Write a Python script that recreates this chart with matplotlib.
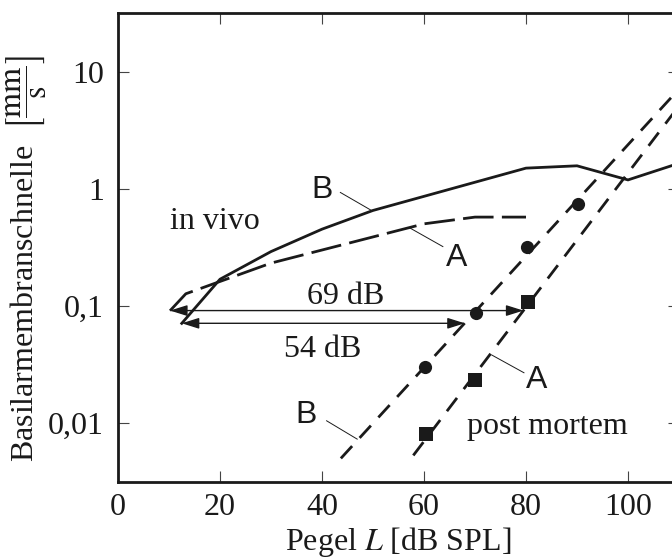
import matplotlib
matplotlib.use("Agg")
import matplotlib.pyplot as plt
from matplotlib.ticker import FixedLocator, FixedFormatter, NullLocator

# ---- data ----
# in vivo, curve B (solid)
vivo_B_x = [12.5, 20, 30, 40, 50, 80, 90, 100, 110]
vivo_B_y = [0.071, 0.169, 0.291, 0.452, 0.653, 1.50, 1.57, 1.19, 1.65]
# in vivo, curve A (long dashes)
vivo_A_x = [10.2, 13.3, 30, 60, 70, 80]
vivo_A_y = [0.091, 0.127, 0.232, 0.502, 0.573, 0.573]
# post mortem, line B and its points (circles)
pm_B_line_x = [43.7, 110]
pm_B_line_y = [0.0050, 7.1]
pm_B_pts_x = [60.2, 70.2, 80.1, 90.1]
pm_B_pts_y = [0.0299, 0.0877, 0.317, 0.744]
# post mortem, line A and its points (squares)
pm_A_line_x = [57.9, 110]
pm_A_line_y = [0.0053, 5.1]
pm_A_pts_x = [60.4, 70.0, 80.3]
pm_A_pts_y = [0.00805, 0.0233, 0.107]

x_ticks = [0, 20, 40, 60, 80, 100]
x_ticklabels = ["0", "20", "40", "60", "80", "100"]
y_ticks = [0.01, 0.1, 1, 10]
y_ticklabels = ["0,01", "0,1", "1", "10"]

# level differences (arrows)
arrow69 = (10.2, 79.5, 0.0913)
arrow54 = (12.5, 68.0, 0.0711)

# ---- style ----
plt.rcParams["font.family"] = ["Liberation Serif", "DejaVu Serif"]
plt.rcParams["mathtext.fontset"] = "stix"
INK = "#1a1a1a"
FS = 23

fig = plt.figure(figsize=(6.72, 5.58), dpi=100)
ax = fig.add_axes([118 / 672, 76.3 / 558, 561 / 672, 468.7 / 558])

ax.set_yscale("log")
ax.set_xlim(0, 110)
ax.set_ylim(10 ** -2.5, 10 ** 1.5)

lw = 2.0
ax.plot(vivo_B_x, vivo_B_y, color=INK, lw=lw, solid_joinstyle="miter")
ax.plot(vivo_A_x, vivo_A_y, color=INK, lw=lw, dashes=(11, 3))
ax.plot(pm_B_line_x, pm_B_line_y, color=INK, lw=lw, dashes=(6, 4))
ax.plot(pm_A_line_x, pm_A_line_y, color=INK, lw=lw, dashes=(6, 4))
ax.plot(pm_B_pts_x, pm_B_pts_y, "o", color=INK, ms=9.5, mew=0)
ax.plot(pm_A_pts_x, pm_A_pts_y, "s", color=INK, ms=9.5, mew=0)

# arrows
for x0, x1, yv in (arrow69, arrow54):
    ax.annotate("", xy=(x0, yv), xytext=(x1, yv),
                arrowprops=dict(arrowstyle="<|-|>,head_length=0.7,head_width=0.22",
                                lw=1.0, color=INK, shrinkA=0, shrinkB=0,
                                mutation_scale=15))

ax.text(44.6, 0.104, "69 dB", fontsize=FS, ha="center", va="baseline", color=INK)
ax.text(40.1, 0.0369, "54 dB", fontsize=FS, ha="center", va="baseline", color=INK)
ax.text(10.2, 0.452, "in vivo", fontsize=FS, ha="left", va="baseline", color=INK)
ax.text(68.4, 0.00805, "post mortem", fontsize=FS, ha="left", va="baseline", color=INK)

# curve labels with leader lines
labels = [
    ("B", 40.0, 0.97, (43.6, 0.93), (49.7, 0.653)),
    ("A", 66.3, 0.255, (57.3, 0.461), (63.7, 0.321)),
    ("A", 82.0, 0.0234, (73.3, 0.0381), (79.6, 0.0269)),
    ("B", 36.8, 0.0118, (40.9, 0.01047), (46.9, 0.0073)),
]
for txt, tx, ty, p0, p1 in labels:
    ax.text(tx, ty, txt, fontsize=FS, family=["Liberation Sans", "DejaVu Sans"],
            ha="center", va="center", color=INK)
    ax.plot([p0[0], p1[0]], [p0[1], p1[1]], color=INK, lw=0.7)

# axes styling
for s in ax.spines.values():
    s.set_linewidth(2.0)
    s.set_color(INK)
ax.xaxis.set_major_locator(FixedLocator(x_ticks))
ax.xaxis.set_major_formatter(FixedFormatter(x_ticklabels))
ax.yaxis.set_major_locator(FixedLocator(y_ticks))
ax.yaxis.set_major_formatter(FixedFormatter(y_ticklabels))
ax.yaxis.set_minor_locator(NullLocator())
ax.xaxis.set_minor_locator(NullLocator())
ax.tick_params(which="both", direction="in", top=True, right=True,
               length=8, width=0.8, color="#444444", labelsize=FS, labelcolor=INK)
ax.tick_params(axis="x", pad=8)
ax.tick_params(axis="y", pad=10)

ax.set_xlabel("Pegel $\\mathit{L}$ [dB SPL]", fontsize=FS, color=INK, labelpad=2)
ax.set_ylabel(r"Basilarmembranschnelle  $\left[\dfrac{\mathrm{mm}}{\mathrm{s}}\right]$",
              fontsize=FS, color=INK)
ax.yaxis.set_label_coords(-0.125, 0.475)

fig.savefig("out.png", dpi=100)
